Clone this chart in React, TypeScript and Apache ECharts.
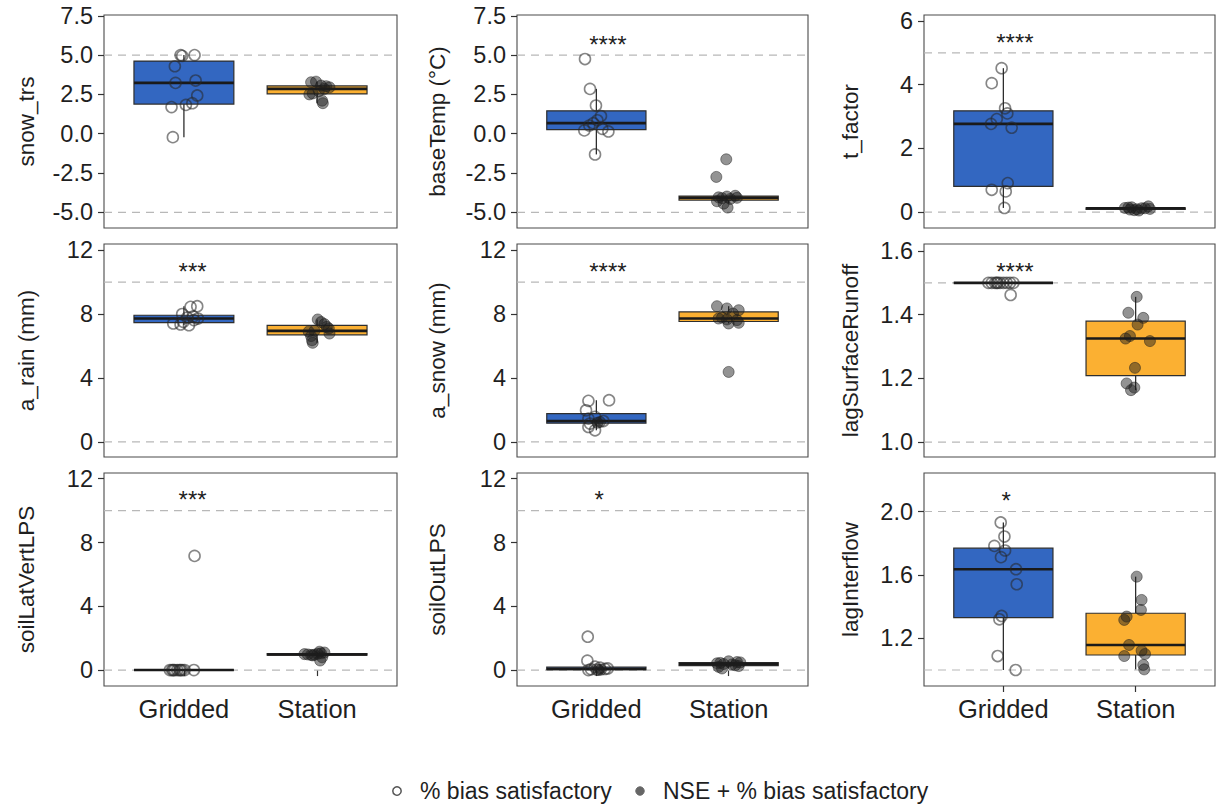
import { useEffect, useRef } from "react";
import * as echarts from "echarts";

const FONT = '"Liberation Sans", Arial, Helvetica, sans-serif';
const BLUE = "#3367C1";
const ORANGE = "#FBB032";
const INK = "#1f1f1f";

const groups = ["Gridded", "Station"];
const legendLabels = ["% bias satisfactory", "NSE + % bias satisfactory"];

// ---- snow_trs ----
const snowTrsGridded = [5.0, 4.95, 5.0, 4.29, 3.23, 3.38, 2.43, 1.69, 1.83, 1.94, -0.22];
const snowTrsGriddedJitter = [-0.025, -0.013, 0.08, -0.068, -0.063, 0.088, 0.1, -0.093, 0.015, 0.063, -0.083];
const snowTrsStation = [3.31, 3.27, 3.06, 3.02, 2.95, 2.85, 2.7, 2.56, 2.5, 2.1, 1.94];
const snowTrsStationJitter = [-0.008, -0.045, 0.03, 0.068, 0.093, 0.055, 0.013, -0.033, -0.058, 0.038, 0.043];

// ---- baseTemp ----
const baseTempGridded = [4.75, 2.85, 1.79, 1.12, 0.85, 0.67, 0.52, 0.31, 0.21, 0.14, -1.32];
const baseTempGriddedJitter = [-0.086, -0.048, -0.003, 0.035, 0.008, -0.023, -0.053, 0.045, -0.091, 0.091, -0.01];
const baseTempStation = [-1.63, -2.75, -3.95, -4.0, -4.05, -4.08, -4.1, -4.15, -4.3, -4.45, -4.7];
const baseTempStationJitter = [-0.018, -0.093, 0.05, -0.013, -0.076, 0.063, -0.05, 0.013, -0.088, -0.038, -0.008];

// ---- t_factor ----
const tFactorGridded = [4.52, 4.05, 3.26, 3.1, 2.92, 2.77, 2.65, 0.91, 0.7, 0.65, 0.13];
const tFactorGriddedJitter = [-0.013, -0.088, 0.013, 0.03, -0.05, -0.093, 0.063, 0.033, -0.088, 0.018, 0.008];
const tFactorStation = [0.18, 0.15, 0.13, 0.12, 0.1, 0.09, 0.08, 0.06, 0.05, 0.12, 0.14];
const tFactorStationJitter = [0.096, -0.03, -0.081, 0.045, 0.108, 0.008, -0.043, -0.01, 0.025, 0.071, -0.055];

// ---- a_rain ----
const aRainGridded = [8.45, 8.49, 8.0, 7.85, 7.78, 7.72, 7.62, 7.51, 7.41, 7.35, 7.3];
const aRainGriddedJitter = [0.05, 0.1, -0.013, 0.07, 0.025, 0.105, 0.075, -0.005, -0.08, -0.025, 0.038];
const aRainStation = [7.66, 7.5, 7.37, 7.2, 7.1, 6.95, 6.9, 6.78, 6.62, 6.36, 6.2];
const aRainStationJitter = [0.005, 0.03, 0.055, 0.073, 0.088, -0.02, -0.063, 0.093, -0.045, -0.038, -0.033];

// ---- a_snow ----
const aSnowGridded = [2.61, 2.57, 1.98, 1.57, 1.46, 1.31, 1.25, 1.2, 1.15, 0.94, 0.73];
const aSnowGriddedJitter = [0.096, -0.06, -0.078, -0.01, -0.06, 0.053, 0.028, 0.008, -0.048, -0.06, -0.01];
const aSnowGriddedNse = [0, 0, 0, 0, 0, 0, 1, 1, 0, 0, 0];
const aSnowStation = [8.49, 8.35, 8.24, 8.03, 7.78, 7.72, 7.66, 7.62, 7.45, 7.41, 4.38];
const aSnowStationJitter = [-0.088, -0.013, 0.076, 0.033, -0.05, -0.076, -0.013, 0.063, 0.076, 0.0, 0.0];

// ---- lagSurfaceRunoff ----
const lagSurfGridded = [1.5, 1.5, 1.5, 1.5, 1.5, 1.5, 1.5, 1.5, 1.5, 1.5, 1.462];
const lagSurfGriddedJitter = [-0.113, -0.088, -0.063, -0.05, -0.025, 0.0, 0.025, 0.05, 0.076, -0.043, 0.055];
const lagSurfStation = [1.456, 1.406, 1.39, 1.369, 1.333, 1.325, 1.317, 1.233, 1.184, 1.171, 1.163];
const lagSurfStationJitter = [0.008, -0.055, 0.058, 0.015, -0.043, -0.076, 0.108, -0.005, -0.068, -0.01, -0.035];

// ---- soilLatVertLPS ----
const soilLatGridded = [0, 0, 0, 0, 0, 0, 0, 0, 0, 0, 7.16];
const soilLatGriddedJitter = [-0.105, -0.088, -0.07, -0.05, -0.033, -0.013, 0.005, -0.025, -0.08, 0.075, 0.08];
const soilLatStation = [1.15, 1.1, 1.05, 1.02, 1.0, 0.98, 0.96, 0.95, 0.92, 0.8, 0.6];
const soilLatStationJitter = [0.018, 0.055, 0.03, 0.005, -0.095, -0.07, -0.02, -0.045, -0.033, 0.038, 0.023];

// ---- soilOutLPS ----
const soilOutGridded = [2.09, 0.59, 0.21, 0.15, 0.1, 0.07, 0.05, 0.03, 0.02, 0.0, 0.0];
const soilOutGriddedJitter = [-0.065, -0.068, -0.01, 0.028, 0.086, 0.065, -0.04, 0.003, 0.035, 0.015, -0.06];
const soilOutGriddedNse = [0, 0, 0, 0, 0, 0, 0, 0, 1, 1, 0];
const soilOutStation = [0.55, 0.5, 0.48, 0.45, 0.42, 0.38, 0.35, 0.3, 0.25, 0.2, 0.1];
const soilOutStationJitter = [0.0, 0.063, 0.088, -0.063, -0.088, -0.038, 0.025, 0.05, 0.076, -0.076, -0.05];

// ---- lagInterflow ----
const lagInterGridded = [1.931, 1.842, 1.783, 1.754, 1.712, 1.636, 1.541, 1.341, 1.32, 1.088, 1.0];
const lagInterGriddedJitter = [-0.02, 0.008, -0.068, 0.013, -0.018, 0.096, 0.101, -0.013, -0.03, -0.043, 0.093];
const lagInterStation = [1.589, 1.442, 1.379, 1.337, 1.316, 1.158, 1.122, 1.101, 1.088, 1.032, 1.004];
const lagInterStationJitter = [0.008, 0.045, 0.04, -0.068, -0.086, -0.05, 0.045, 0.071, -0.086, 0.058, 0.065];

// axis ticks
const tempTicks = [-5, -2.5, 0, 2.5, 5, 7.5];
const tFactorTicks = [0, 2, 4, 6];
const mmTicks = [0, 4, 8, 12];
const lagSurfTicks = [1.0, 1.2, 1.4, 1.6];
const lagInterTicks = [1.2, 1.6, 2.0];

type Panel = {
  title: string;
  gridded: number[];
  griddedJitter: number[];
  griddedNse?: number[];
  station: number[];
  stationJitter: number[];
  yRange: [number, number];
  ticks: number[];
  decimals: number;
  refs: number[];
  stars: string;
  starY: number;
};

const panels: Panel[] = [
  { title: "snow_trs", gridded: snowTrsGridded, griddedJitter: snowTrsGriddedJitter, station: snowTrsStation, stationJitter: snowTrsStationJitter, yRange: [-6.0, 7.55], ticks: tempTicks, decimals: 1, refs: [5, -5], stars: "", starY: 0 },
  { title: "baseTemp (°C)", gridded: baseTempGridded, griddedJitter: baseTempGriddedJitter, station: baseTempStation, stationJitter: baseTempStationJitter, yRange: [-6.0, 7.55], ticks: tempTicks, decimals: 1, refs: [5, -5], stars: "****", starY: 6.04 },
  { title: "t_factor", gridded: tFactorGridded, griddedJitter: tFactorGriddedJitter, station: tFactorStation, stationJitter: tFactorStationJitter, yRange: [-0.5, 6.19], ticks: tFactorTicks, decimals: 0, refs: [5, 0], stars: "****", starY: 5.49 },
  { title: "a_rain (mm)", gridded: aRainGridded, griddedJitter: aRainGriddedJitter, station: aRainStation, stationJitter: aRainStationJitter, yRange: [-0.94, 12.38], ticks: mmTicks, decimals: 0, refs: [10, 0], stars: "***", starY: 11.0 },
  { title: "a_snow (mm)", gridded: aSnowGridded, griddedJitter: aSnowGriddedJitter, griddedNse: aSnowGriddedNse, station: aSnowStation, stationJitter: aSnowStationJitter, yRange: [-0.94, 12.38], ticks: mmTicks, decimals: 0, refs: [10, 0], stars: "****", starY: 11.0 },
  { title: "lagSurfaceRunoff", gridded: lagSurfGridded, griddedJitter: lagSurfGriddedJitter, station: lagSurfStation, stationJitter: lagSurfStationJitter, yRange: [0.953, 1.622], ticks: lagSurfTicks, decimals: 1, refs: [1.5, 1.0], stars: "****", starY: 1.553 },
  { title: "soilLatVertLPS", gridded: soilLatGridded, griddedJitter: soilLatGriddedJitter, station: soilLatStation, stationJitter: soilLatStationJitter, yRange: [-1.0, 12.36], ticks: mmTicks, decimals: 0, refs: [10, 0], stars: "***", starY: 11.0 },
  { title: "soilOutLPS", gridded: soilOutGridded, griddedJitter: soilOutGriddedJitter, griddedNse: soilOutGriddedNse, station: soilOutStation, stationJitter: soilOutStationJitter, yRange: [-1.0, 12.36], ticks: mmTicks, decimals: 0, refs: [10, 0], stars: "*", starY: 11.0 },
  { title: "lagInterflow", gridded: lagInterGridded, griddedJitter: lagInterGriddedJitter, station: lagInterStation, stationJitter: lagInterStationJitter, yRange: [0.899, 2.243], ticks: lagInterTicks, decimals: 1, refs: [2.0, 1.0], stars: "*", starY: 2.105 },
];

// facet layout (pixels)
const colLeft = [104, 517, 924];
const colWidth = [293, 291, 291];
const rowTop = [15, 244, 473];
const rowHeight = 213;
const titleX = [26, 437, 850];

function quantile(sorted: number[], p: number) {
  const h = (sorted.length - 1) * p;
  const lo = Math.floor(h);
  const hi = Math.ceil(h);
  return sorted[lo] + (h - lo) * (sorted[hi] - sorted[lo]);
}

// Tukey box statistics: [lower whisker, q1, median, q3, upper whisker]
function boxStats(values: number[]) {
  const s = [...values].sort((a, b) => a - b);
  const q1 = quantile(s, 0.25);
  const med = quantile(s, 0.5);
  const q3 = quantile(s, 0.75);
  const iqr = q3 - q1;
  const lo = s.find((v) => v >= q1 - 1.5 * iqr) as number;
  const hi = [...s].reverse().find((v) => v <= q3 + 1.5 * iqr) as number;
  return [lo, q1, med, q3, hi];
}

function buildOption() {
  const grid: any[] = [];
  const xAxis: any[] = [];
  const yAxis: any[] = [];
  const series: any[] = [];
  const graphic: any[] = [];

  panels.forEach((p, i) => {
    const row = Math.floor(i / 3);
    const col = i % 3;
    const isBottom = row === 2;
    grid.push({
      left: colLeft[col],
      top: rowTop[row],
      width: colWidth[col],
      height: rowHeight,
      show: true,
      borderColor: "#4a4a4a",
      borderWidth: 1.1,
      backgroundColor: "#ffffff",
    });
    xAxis.push({
      type: "value",
      gridIndex: i,
      min: 0.4,
      max: 2.6,
      axisLine: { show: false },
      splitLine: { show: false },
      axisTick: isBottom
        ? { show: true, length: 6, customValues: [1, 2], lineStyle: { color: "#333", width: 1.2 } }
        : { show: false },
      axisLabel: isBottom
        ? {
            show: true,
            customValues: [1, 2],
            formatter: (v: number) => groups[Math.round(v) - 1] ?? "",
            fontSize: 25.5,
            fontFamily: FONT,
            color: INK,
            margin: 10,
          }
        : { show: false },
    });
    yAxis.push({
      type: "value",
      gridIndex: i,
      min: p.yRange[0],
      max: p.yRange[1],
      axisLine: { show: false },
      splitLine: { show: false },
      axisTick: { show: true, length: 6, customValues: p.ticks, lineStyle: { color: "#333", width: 1.2 } },
      axisLabel: {
        customValues: p.ticks,
        formatter: (v: number) => v.toFixed(p.decimals),
        fontSize: 23.5,
        fontFamily: FONT,
        color: INK,
        margin: 11,
      },
    });

    // dashed reference lines
    series.push({
      type: "custom",
      xAxisIndex: i,
      yAxisIndex: i,
      silent: true,
      z: 1,
      encode: { x: 0, y: 1 },
      data: p.refs.map((v) => [1, v]),
      renderItem: (_params: any, api: any) => {
        const v = api.value(1);
        const a = api.coord([0.4, v]);
        const b = api.coord([2.6, v]);
        return {
          type: "line",
          shape: { x1: a[0], y1: a[1], x2: b[0], y2: b[1] },
          style: { stroke: "#b8b8b8", lineWidth: 1.2, lineDash: [8, 6] },
        };
      },
    });

    // boxplots
    const sg = boxStats(p.gridded);
    const ss = boxStats(p.station);
    series.push({
      type: "custom",
      xAxisIndex: i,
      yAxisIndex: i,
      silent: true,
      z: 2,
      encode: { x: 0, y: [1, 2, 3, 4, 5] },
      data: [
        [1, ...sg, 0],
        [2, ...ss, 1],
      ],
      renderItem: (_params: any, api: any) => {
        const x = api.value(0);
        const lo = api.value(1);
        const q1 = api.value(2);
        const med = api.value(3);
        const q3 = api.value(4);
        const hi = api.value(5);
        const fill = api.value(6) === 0 ? BLUE : ORANGE;
        const half = 0.375;
        const tl = api.coord([x - half, q3]);
        const br = api.coord([x + half, q1]);
        const cHi = api.coord([x, hi]);
        const cQ3 = api.coord([x, q3]);
        const cQ1 = api.coord([x, q1]);
        const cLo = api.coord([x, lo]);
        const cMed = api.coord([x, med]);
        const stroke = "#2e2e2e";
        return {
          type: "group",
          children: [
            { type: "line", shape: { x1: cHi[0], y1: cHi[1], x2: cQ3[0], y2: cQ3[1] }, style: { stroke, lineWidth: 1.3 } },
            { type: "line", shape: { x1: cQ1[0], y1: cQ1[1], x2: cLo[0], y2: cLo[1] }, style: { stroke, lineWidth: 1.3 } },
            {
              type: "rect",
              shape: { x: tl[0], y: tl[1], width: br[0] - tl[0], height: br[1] - tl[1] },
              style: { fill, stroke, lineWidth: 1.2 },
            },
            { type: "line", shape: { x1: tl[0], y1: cMed[1], x2: br[0], y2: cMed[1] }, style: { stroke: "#1a1a1a", lineWidth: 2.6 } },
          ],
        };
      },
    });

    // jittered points
    const openPts: number[][] = [];
    const filledPts: number[][] = [];
    p.gridded.forEach((v, k) => {
      const nse = p.griddedNse ? p.griddedNse[k] : 0;
      (nse ? filledPts : openPts).push([1 + p.griddedJitter[k], v]);
    });
    p.station.forEach((v, k) => {
      filledPts.push([2 + p.stationJitter[k], v]);
    });
    series.push({
      type: "scatter",
      name: legendLabels[0],
      xAxisIndex: i,
      yAxisIndex: i,
      z: 3,
      symbol: "circle",
      symbolSize: 11,
      data: openPts,
      itemStyle: { color: "rgba(255,255,255,0)", borderColor: "rgba(40,40,40,0.7)", borderWidth: 1.6 },
    });
    series.push({
      type: "scatter",
      name: legendLabels[1],
      xAxisIndex: i,
      yAxisIndex: i,
      z: 3,
      symbol: "circle",
      symbolSize: 11,
      data: filledPts,
      itemStyle: { color: "rgba(30,30,30,0.6)", borderColor: "rgba(30,30,30,0.6)", borderWidth: 1 },
    });

    // significance stars
    if (p.stars) {
      series.push({
        type: "custom",
        xAxisIndex: i,
        yAxisIndex: i,
        silent: true,
        z: 4,
        encode: { x: 0, y: 1 },
        data: [[1, p.starY]],
        renderItem: (_params: any, api: any) => {
          const c = api.coord([api.value(0), api.value(1)]);
          const fs = 24;
          const w = p.stars.length * fs * 0.389;
          return {
            type: "text",
            x: c[0] - 0.19 * w,
            y: c[1] + 0.22 * fs,
            style: {
              text: p.stars,
              fontSize: fs,
              fontFamily: FONT,
              fill: INK,
              textAlign: "left",
              textVerticalAlign: "middle",
            },
          };
        },
      });
    }

    // y-axis titles
    graphic.push({
      type: "text",
      x: titleX[col],
      y: rowTop[row] + rowHeight / 2,
      rotation: Math.PI / 2,
      style: {
        text: p.title,
        fontSize: 22.5,
        fontFamily: FONT,
        fill: INK,
        textAlign: "center",
        textVerticalAlign: "middle",
      },
    });
  });

  // legend
  const ly = 791;
  graphic.push(
    { type: "circle", shape: { cx: 397, cy: ly, r: 4.2 }, style: { fill: "#fff", stroke: "#555", lineWidth: 1.5 } },
    { type: "text", x: 420, y: ly, style: { text: legendLabels[0], fontSize: 23, fontFamily: FONT, fill: INK, textVerticalAlign: "middle" } },
    { type: "circle", shape: { cx: 640, cy: ly, r: 4.2 }, style: { fill: "#666", stroke: "#666", lineWidth: 1 } },
    { type: "text", x: 663, y: ly, style: { text: legendLabels[1], fontSize: 23, fontFamily: FONT, fill: INK, textVerticalAlign: "middle" } }
  );

  return {
    animation: false,
    backgroundColor: "#ffffff",
    grid,
    xAxis,
    yAxis,
    series,
    graphic,
  };
}

export default function App() {
  const ref = useRef<HTMLDivElement>(null);
  useEffect(() => {
    if (!ref.current) return;
    const chart = echarts.init(ref.current, null, { renderer: "svg" });
    chart.setOption(buildOption() as any);
    return () => chart.dispose();
  }, []);
  return (
    <div
      ref={ref}
      style={{ position: "fixed", left: 0, top: 0, width: 1221, height: 805, background: "#fff" }}
    />
  );
}
